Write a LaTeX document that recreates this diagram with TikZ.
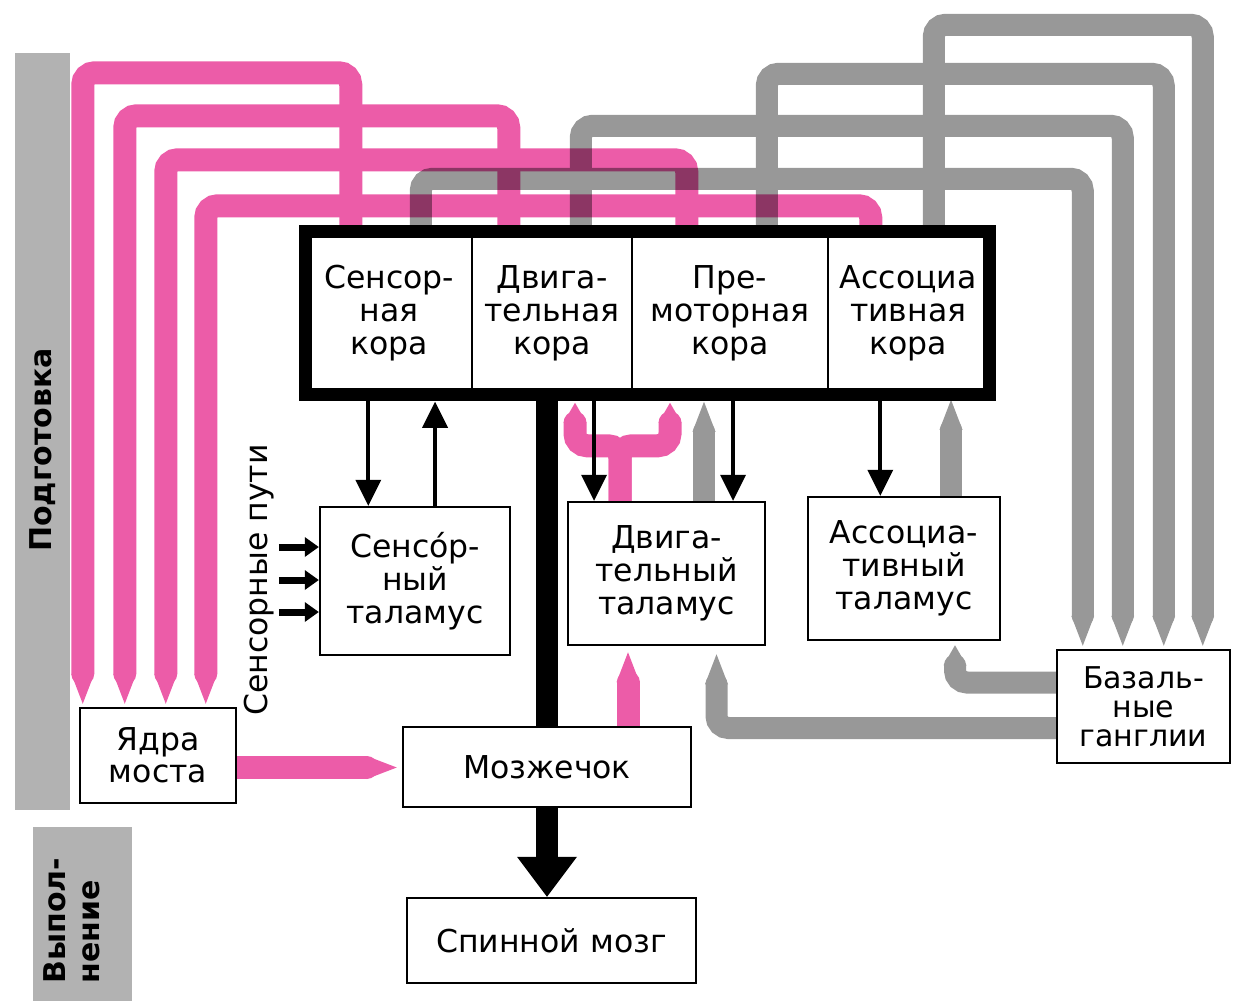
\documentclass[tikz,border=0pt]{standalone}
\usepackage{fontspec}
\setmainfont{DejaVu Sans}
\usetikzlibrary{arrows.meta, calc, backgrounds}

\definecolor{flowpink}{RGB}{236,92,168}
\definecolor{flowgray}{RGB}{152,152,152}
\definecolor{bandgray}{RGB}{178,178,178}

\tikzset{
  cortexcell/.style={draw, line width=2.5pt, fill=white, inner sep=0pt, align=center, minimum height=161pt},
  blockbox/.style={draw, line width=2.5pt, fill=white, inner sep=0pt, align=center},
  pinkflow/.style={draw=flowpink, line width=23pt, rounded corners=12pt, line cap=round},
  grayflow/.style={draw=flowgray, line width=22pt, rounded corners=12pt, line cap=round},
  flowtip/.style={-{Triangle[length=#1, width=23pt, line width=0pt]}},
  flowtip/.default=30pt,
  thinarrow/.style={line width=4pt, -{Triangle[length=26pt, width=26pt, line width=0pt]}},
  sensearrow/.style={line width=7pt, -{Triangle[length=14pt, width=20pt, line width=0pt]}},
}

\begin{document}
\begin{tikzpicture}[x=1pt, y=-1pt, font=\fontsize{31.5}{33}\selectfont]
  \useasboundingbox (0,0) rectangle (1233,1001);

  % Cortex
  \node[cortexcell, minimum width=165.5pt] (CS) at (389.25,313) {Сенсор-\\ная\\кора};
  \node[cortexcell, minimum width=160pt] (CM) at (552,313) {Двига-\\тельная\\кора};
  \node[cortexcell, minimum width=196pt] (CP) at (730,313) {Пре-\\моторная\\кора};
  \node[cortexcell, minimum width=160.5pt] (CA) at (908.25,313) {Ассоциа\\тивная\\кора};
  \draw[line width=13pt] (CS.north west) rectangle (CA.south east);

  % Thalamus and other blocks
  \node[blockbox, minimum width=190pt, minimum height=148pt] (ST) at (415,581) {Сенсо́р-\\ный\\таламус};
  \node[blockbox, minimum width=197pt, minimum height=143pt] (MT) at (666.5,573.5) {Двига-\\тельный\\таламус};
  \node[blockbox, minimum width=192pt, minimum height=143pt] (AT) at (904,568.5) {Ассоциа-\\тивный\\таламус};
  \node[blockbox, minimum width=173pt, minimum height=113pt, font=\fontsize{30}{29}\selectfont] (BG) at (1143.5,706.5) {Базаль-\\ные\\ганглии};
  \node[blockbox, minimum width=156pt, minimum height=95pt, font=\fontsize{31.5}{32}\selectfont] (PN) at (158,755.5) {Ядра\\моста};
  \node[blockbox, minimum width=288pt, minimum height=80pt] (CB) at (547,767) {Мозжечок};
  \node[blockbox, minimum width=289pt, minimum height=85pt] (SC) at (551.5,940.5) {Спинной мозг};

  % Side labels
  \node[rotate=90, font=\fontsize{30}{34}\selectfont\bfseries] (prep) at (43,450) {Подготовка};
  \node[rotate=90, anchor=west, align=left, font=\fontsize{30}{34}\selectfont\bfseries] (exec) at (72,987) {Выпол-\\нение};
  \node[rotate=90] (paths) at (259,580) {Сенсорные пути};

  \begin{scope}[on background layer]
    % Bands
    \fill[bandgray] (15,53) rectangle (70,810);
    \fill[bandgray] (33,827) rectangle (132,1001);
    % Cortex to pontine nuclei
    \draw[pinkflow, flowtip] ($(CS.north west)+(45.5,-4)$) -- ++(0,-154.5) -| ($(PN.north west)+(4,-3)$);
    \draw[pinkflow, flowtip] ($(CM.north west)+(38,-4)$) -- ++(0,-111.5) -| ($(PN.north west)+(46,-3)$);
    \draw[pinkflow, flowtip] ($(CP.north west)+(56,-4)$) -- ++(0,-67.5) -| ($(PN.north west)+(87,-3)$);
    \draw[pinkflow, flowtip] ($(CA.north west)+(44,-4)$) -- ++(0,-21.5) -| ($(PN.north west)+(127,-3)$);
    % Pons, cerebellum, motor thalamus
    \draw[pinkflow, flowtip] ($(PN.east)+(0,12)$) coordinate (n0) -- ($(n0 -| CB.west)+(-5,0)$);
    \draw[pinkflow, flowtip] ($(CB.north)+(81,0)$) coordinate (c0) -- ($(c0 |- MT.south)+(0,6)$);
    \draw[pinkflow, flowtip=20pt] ($(MT.north)+(-46.5,0)$) coordinate (t0) -- ++(0,-55) -| ($(CM.south)+(23,8)$);
    \draw[pinkflow, flowtip=20pt] (t0) -- ++(0,-55) -| ($(CP.south)+(-60,8)$);
    % Cortex to basal ganglia
    \begin{scope}[blend mode=multiply]
      \begin{scope}[transparency group]
        \draw[grayflow, flowtip] ($(CA.north west)+(107,-4)$) -- ++(0,-202.5) -| ($(BG.north west)+(147,-3)$);
        \draw[grayflow, flowtip] ($(CP.north west)+(136,-4)$) -- ++(0,-153.5) -| ($(BG.north west)+(108,-3)$);
        \draw[grayflow, flowtip] ($(CM.north west)+(110,-4)$) -- ++(0,-101.5) -| ($(BG.north west)+(67,-3)$);
        \draw[grayflow, flowtip] ($(CS.north west)+(115.5,-4)$) -- ++(0,-48.5) -| ($(BG.north west)+(27,-3)$);
      \end{scope}
    \end{scope}
    % Basal ganglia back through thalamus
    \draw[grayflow, flowtip=20pt] ($(BG.west)+(0,-24)$) -| ($(AT.south)+(51,4)$);
    \draw[grayflow, flowtip] ($(BG.west)+(0,21.5)$) -| ($(MT.south)+(50,8)$);
    \draw[grayflow, flowtip] ($(AT.north)+(47,0)$) coordinate (g0) -- ($(g0 |- CA.south)+(0,5)$);
    \draw[grayflow, flowtip] ($(MT.north)+(37.5,0)$) coordinate (g1) -- ($(g1 |- CP.south)+(0,7)$);
  \end{scope}

  % Cortex <-> thalamus
  \draw[thinarrow] ($(CS.south)+(-21,0)$) coordinate (a1) -- (a1 |- ST.north);
  \draw[thinarrow] ($(ST.north)+(20,0)$) coordinate (a2) -- ($(a2 |- CS.south)+(0,7)$);
  \draw[thinarrow] ($(CM.south)+(42,0)$) coordinate (a3) -- (a3 |- MT.north);
  \draw[thinarrow] ($(CP.south)+(3,0)$) coordinate (a4) -- (a4 |- MT.north);
  \draw[thinarrow] ($(CA.south)+(-28,0)$) coordinate (a5) -- (a5 |- AT.north);

  % Sensory input
  \draw[sensearrow] ($(ST.west)+(-40,-34)$) -- ($(ST.west)+(0,-34)$);
  \draw[sensearrow] ($(ST.west)+(-40,-1)$) -- ($(ST.west)+(0,-1)$);
  \draw[sensearrow] ($(ST.west)+(-40,31)$) -- ($(ST.west)+(0,31)$);

  % Motor output
  \draw[line width=22pt] (CM.south -| CB.north) -- (CB.north);
  \draw[line width=22pt, -{Triangle[length=40pt, width=60pt, line width=0pt]}] (CB.south) -- (CB.south |- SC.north);
\end{tikzpicture}
\end{document}
